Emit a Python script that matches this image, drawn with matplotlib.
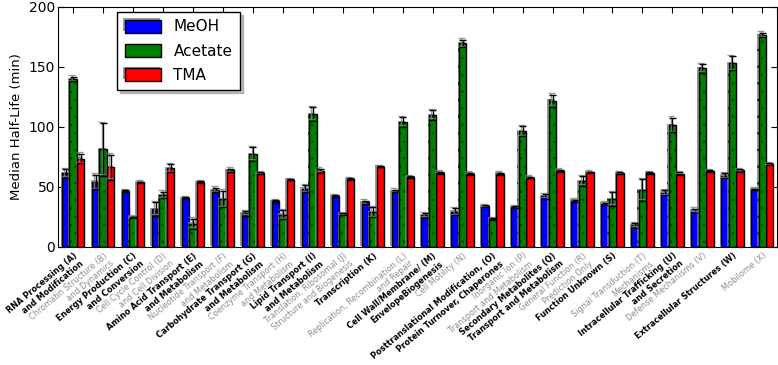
import numpy as np
import matplotlib
matplotlib.use("Agg")
import matplotlib.pyplot as plt
import matplotlib.patheffects as pe

categories = [
    "RNA Processing (A)\nand Modification",
    "Chromatin Structure (B)\nand Dynamics",
    "Energy Production (C)\nand Conversion",
    "Cell Cycle Control (D)\nand Cell Division",
    "Amino Acid Transport (E)\nand Metabolism",
    "Nucleotide Transport (F)\nand Metabolism",
    "Carbohydrate Transport (G)\nand Metabolism",
    "Coenzyme Transport (H)\nand Metabolism",
    "Lipid Transport (I)\nand Metabolism",
    "Translation, Ribosomal (J)\nStructure and Biogenesis",
    "Transcription (K)",
    "Replication, Recombination (L)\nand Repair",
    "Cell Wall/Membrane/ (M)\nEnvelopeBiogenesis",
    "Cell Motility (N)",
    "Posttranslational Modification, (O)\nProtein Turnover, Chaperones",
    "Inorganic Ion (P)\nTransport and Metabolism",
    "Secondary Metabolites (Q)\nTransport and Metabolism",
    "General Function (R)\nPrediction Only",
    "Function Unknown (S)",
    "Signal Transduction (T)\nMechanisms",
    "Intracellular Trafficking (U)\nand Secretion",
    "Defense Mechanisms (V)",
    "Extracellular Structures (W)",
    "Mobilome (X)",
]

meoh = [61.4, 54.4, 46.7, 31.7, 40.8, 47.5, 28.0, 38.3, 48.6, 42.5, 37.2, 46.7,
        26.4, 29.4, 33.9, 33.3, 42.2, 38.6, 36.1, 18.0, 45.3, 30.3, 59.4, 47.8]
meoh_err = [3.5, 6.0, 0.6, 5.7, 0.7, 2.0, 1.8, 0.6, 3.0, 0.6, 1.4, 1.0,
            1.9, 2.8, 0.7, 0.6, 1.8, 0.7, 0.7, 1.9, 2.2, 1.7, 2.1, 0.7]
acetate = [140.0, 81.4, 24.7, 43.3, 19.4, 40.0, 77.5, 27.0, 110.8, 27.2, 28.9, 104.2,
           110.0, 169.7, 23.3, 96.7, 121.9, 55.0, 40.0, 47.5, 101.7, 148.9, 153.0, 176.7]
acetate_err = [1.8, 22.0, 0.6, 2.8, 4.3, 7.0, 5.6, 3.9, 5.5, 0.8, 4.2, 3.9,
               4.0, 3.0, 0.7, 4.2, 5.0, 3.9, 5.6, 8.9, 6.0, 3.5, 5.8, 2.0]
tma = [73.6, 66.4, 53.9, 65.6, 54.2, 63.9, 61.4, 56.1, 63.6, 56.7, 66.9, 58.3,
       61.9, 61.1, 61.1, 57.8, 63.6, 62.2, 61.4, 61.7, 61.1, 63.3, 63.9, 68.9]
tma_err = [4.0, 10.4, 0.6, 3.3, 0.6, 1.4, 0.7, 0.6, 1.7, 0.6, 0.6, 0.7,
           0.7, 0.7, 0.7, 0.7, 0.7, 0.7, 0.7, 0.7, 1.0, 0.7, 1.0, 0.7]

series_names = ["MeOH", "Acetate", "TMA"]
series_colors = ["#0000ff", "#008000", "#ff0000"]

plt.rcParams['hatch.linewidth'] = 0.7

fig = plt.figure(figsize=(7.78, 3.65), dpi=100)
ax = fig.add_axes([58/778, 118/365, 719/778, 240/365])

ind = np.arange(len(categories))
width = 0.25
shadow_patch = [pe.SimplePatchShadow(offset=(-1, 1), shadow_rgbFace='0.5', alpha=0.8), pe.Normal()]
shadow_line = [pe.SimpleLineShadow(offset=(-1, 1), shadow_color='0.5', alpha=0.8), pe.Normal()]

data = [(meoh, meoh_err), (acetate, acetate_err), (tma, tma_err)]
handles = []
for k, ((vals, errs), name, col) in enumerate(zip(data, series_names, series_colors)):
    x = ind + k * width
    if name == "Acetate":
        b = ax.bar(x, vals, width, align='edge', color=col, edgecolor='#004a00',
                   linewidth=0, hatch='..', zorder=2)
        for p in b:
            p.set_path_effects(shadow_patch)
        ax.bar(x, vals, width, align='edge', fill=False, edgecolor='k',
               linewidth=1, zorder=2.1)
        handles.append(ax.bar([0], [0], 0, color=col, edgecolor='k', label=name))
    else:
        b = ax.bar(x, vals, width, align='edge', color=col, edgecolor='k',
                   linewidth=1, zorder=2)
        for p in b:
            p.set_path_effects(shadow_patch)
        handles.append(b)
    eb = ax.errorbar(x + width / 2, vals, yerr=errs, fmt='none', ecolor='k',
                     elinewidth=1, capsize=2.5, capthick=1, zorder=3)
    for ln in eb.lines[1]:
        ln.set_path_effects(shadow_line)
    for lc in eb.lines[2]:
        lc.set_path_effects(shadow_line)

ax.set_xlim(-0.133, 23.867)
ax.set_ylim(0, 200)
ax.set_yticks([0, 50, 100, 150, 200])
ax.tick_params(axis='y', labelsize=10, direction='in', right=True, length=4, pad=2)
ax.tick_params(axis='x', direction='in', top=True, length=4, pad=3)
ax.set_ylabel("Median Half-Life (min)", fontsize=9.5, labelpad=4)

ax.set_xticks(ind + 1.5 * width)
ax.set_xticklabels(categories, rotation=40, ha='right', rotation_mode='anchor', fontsize=5.9)
for i, lab in enumerate(ax.get_xticklabels()):
    if i % 2 == 0:
        lab.set_color('black')
        lab.set_fontweight('bold')
    else:
        lab.set_color('#8c8c8c')

leg = ax.legend(handles=handles, labels=series_names, loc='upper left',
                bbox_to_anchor=(0.082, 0.98), borderaxespad=0, fontsize=11,
                fancybox=False, shadow={'color': '0.5', 'alpha': 0.5}, frameon=True,
                handlelength=2.4, handleheight=0.9, borderpad=0.5, labelspacing=0.6)
leg.get_frame().set_edgecolor('black')
leg.get_frame().set_linewidth(1)

fig.savefig("out.png", dpi=100, facecolor='white')
